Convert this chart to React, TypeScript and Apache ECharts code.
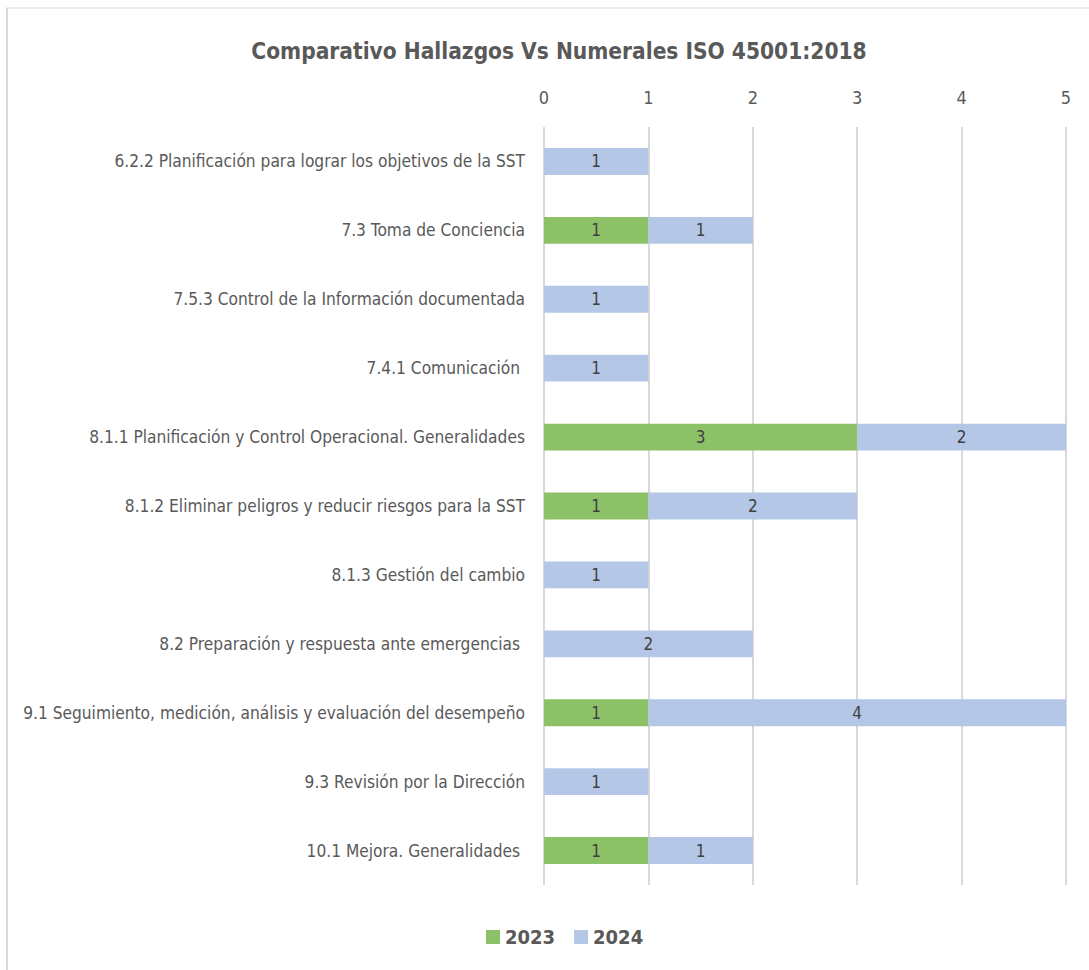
import React, { useEffect, useRef } from "react";
import * as echarts from "echarts";

const categories = [
  "6.2.2 Planificación para lograr los objetivos de la SST",
  "7.3 Toma de Conciencia",
  "7.5.3 Control de la Información documentada",
  "7.4.1 Comunicación ",
  "8.1.1 Planificación y Control Operacional. Generalidades",
  "8.1.2 Eliminar peligros y reducir riesgos para la SST",
  "8.1.3 Gestión del cambio",
  "8.2 Preparación y respuesta ante emergencias ",
  "9.1 Seguimiento, medición, análisis y evaluación del desempeño",
  "9.3 Revisión por la Dirección",
  "10.1 Mejora. Generalidades ",
];
const values2023: (number | null)[] = [null, 1, null, null, 3, 1, null, null, 1, null, 1];
const values2024: (number | null)[] = [1, 1, 1, 1, 2, 2, 1, 2, 4, 1, 1];
const xTicks = [0, 1, 2, 3, 4, 5];

const FONT = "'Liberation Sans Narrow', 'DejaVu Sans Condensed', 'Arial Narrow', sans-serif";

export default function App() {
  const ref = useRef<HTMLDivElement>(null);
  useEffect(() => {
    if (!ref.current) return;
    const chart = echarts.init(ref.current, null, { renderer: "svg" });
    const label = {
      show: true,
      position: "inside",
      color: "#404040",
      fontSize: 17,
      fontFamily: FONT,
      formatter: (p: any) => (p.value == null ? "" : String(p.value)),
    };
    chart.setOption({
      animation: false,
      backgroundColor: "#ffffff",
      textStyle: { fontFamily: FONT },
      title: {
        text: "Comparativo Hallazgos Vs Numerales ISO 45001:2018",
        left: 554,
        top: 46,
        textAlign: "center",
        textVerticalAlign: "middle",
        textStyle: { fontSize: 22.5, fontWeight: "bold", color: "#595959", fontFamily: FONT },
      },
      legend: {
        bottom: 18,
        left: 481,
        icon: "rect",
        itemWidth: 14,
        itemHeight: 14,
        itemGap: 19,
        textStyle: { fontSize: 20, fontWeight: "bold", color: "#595959", fontFamily: FONT },
        data: ["2023", "2024"],
      },
      graphic: [
        { type: "line", shape: { x1: 6, y1: 8, x2: 1089, y2: 8 }, style: { stroke: "#d9d9d9", lineWidth: 1 } },
        { type: "line", shape: { x1: 7, y1: 8, x2: 7, y2: 970 }, style: { stroke: "#d9d9d9", lineWidth: 2 } },
      ],
      grid: { left: 544, right: 23, top: 127, bottom: 85, containLabel: false },
      xAxis: {
        type: "value",
        position: "top",
        min: xTicks[0],
        max: xTicks[xTicks.length - 1],
        interval: 1,
        axisLine: { show: false },
        axisTick: { show: false },
        axisLabel: { fontSize: 18, color: "#595959", margin: 21, fontFamily: FONT },
        splitLine: { show: true, lineStyle: { color: "#d9d9d9", width: 2 } },
      },
      yAxis: {
        type: "category",
        inverse: true,
        data: categories,
        axisLine: { show: false },
        axisTick: { show: false },
        axisLabel: { fontSize: 17.2, color: "#595959", margin: 19, fontFamily: FONT },
      },
      series: [
        {
          name: "2023",
          type: "bar",
          stack: "total",
          barWidth: "39%",
          data: values2023,
          itemStyle: { color: "#8DC167" },
          label,
        },
        {
          name: "2024",
          type: "bar",
          stack: "total",
          barWidth: "39%",
          data: values2024,
          itemStyle: { color: "#B4C7E7" },
          label,
        },
      ],
    });
    return () => chart.dispose();
  }, []);
  return (
    <div style={{ position: "absolute", left: 0, top: 0, width: 1089, height: 970 }}>
      <div ref={ref} style={{ width: 1089, height: 970 }} />
    </div>
  );
}
